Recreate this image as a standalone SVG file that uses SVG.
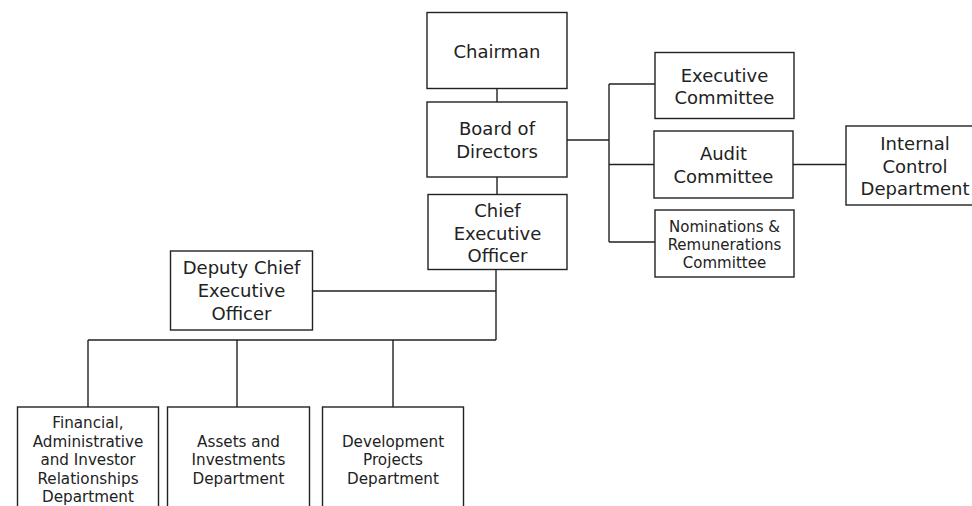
<svg xmlns="http://www.w3.org/2000/svg" width="972" height="506" viewBox="0 0 972 506">
<style>
.box{fill:#fff;stroke:#222;stroke-width:1.4}
.ln{fill:none;stroke:#222;stroke-width:1.4}
text{font-family:"DejaVu Sans","Noto Sans",sans-serif;fill:#222;text-anchor:middle}
.t1{font-size:18px}
.t2{font-size:15px}
.t3{font-size:15.2px}
</style>
<rect width="972" height="506" fill="#fff"/>
<g id="connectors">
<path class="ln" d="M497,88 V102 M497,177 V194 M496,269 V340 M312,291 H496 M88,340 H496 M88,340 V407 M237,340 V407 M393,340 V407"/>
<path class="ln" d="M567,140 H609 M609,84 V242 M609,84 H655 M609,164.5 H654 M609,242 H655 M793,164.5 H846"/>
</g>
<g id="chairman"><rect class="box" x="427" y="12.5" width="140" height="76"/><text class="t1" x="497" y="57.5">Chairman</text></g>
<g id="board"><rect class="box" x="427" y="102" width="140" height="75"/><text class="t1" x="497" y="135">Board of</text><text class="t1" x="497" y="158">Directors</text></g>
<g id="ceo"><rect class="box" x="428" y="194.5" width="139" height="75"/><text class="t1" x="497.5" y="216.5">Chief</text><text class="t1" x="497.5" y="239.5">Executive</text><text class="t1" x="497.5" y="261.5">Officer</text></g>
<g id="exec"><rect class="box" x="655" y="52.5" width="139" height="66"/><text class="t1" x="724.5" y="82">Executive</text><text class="t1" x="724.5" y="104">Committee</text></g>
<g id="audit"><rect class="box" x="654" y="131" width="139" height="67"/><text class="t1" x="723.5" y="160">Audit</text><text class="t1" x="723.5" y="183">Committee</text></g>
<g id="nominations"><rect class="box" x="655" y="210" width="139" height="67"/><text class="t2" x="724.5" y="231.5">Nominations &amp;</text><text class="t2" x="724.5" y="250">Remunerations</text><text class="t2" x="724.5" y="268">Committee</text></g>
<g id="internal"><rect class="box" x="846" y="126" width="140" height="79"/><text class="t1" x="915" y="150">Internal</text><text class="t1" x="915" y="172.5">Control</text><text class="t1" x="915" y="195">Department</text></g>
<g id="deputy"><rect class="box" x="170.5" y="251" width="142" height="79"/><text class="t1" x="241.5" y="274">Deputy Chief</text><text class="t1" x="241.5" y="297">Executive</text><text class="t1" x="241.5" y="320">Officer</text></g>
<g id="financial"><rect class="box" x="17.5" y="407" width="141" height="110"/><text class="t3" x="88" y="428">Financial,</text><text class="t3" x="88" y="446.5">Administrative</text><text class="t3" x="88" y="465">and Investor</text><text class="t3" x="88" y="483.5">Relationships</text><text class="t3" x="88" y="502">Department</text></g>
<g id="assets"><rect class="box" x="167.5" y="407" width="142" height="110"/><text class="t3" x="238.5" y="446.5">Assets and</text><text class="t3" x="238.5" y="465">Investments</text><text class="t3" x="238.5" y="483.5">Department</text></g>
<g id="development"><rect class="box" x="322.5" y="407" width="141" height="110"/><text class="t3" x="393" y="446.5">Development</text><text class="t3" x="393" y="465">Projects</text><text class="t3" x="393" y="483.5">Department</text></g>
</svg>
